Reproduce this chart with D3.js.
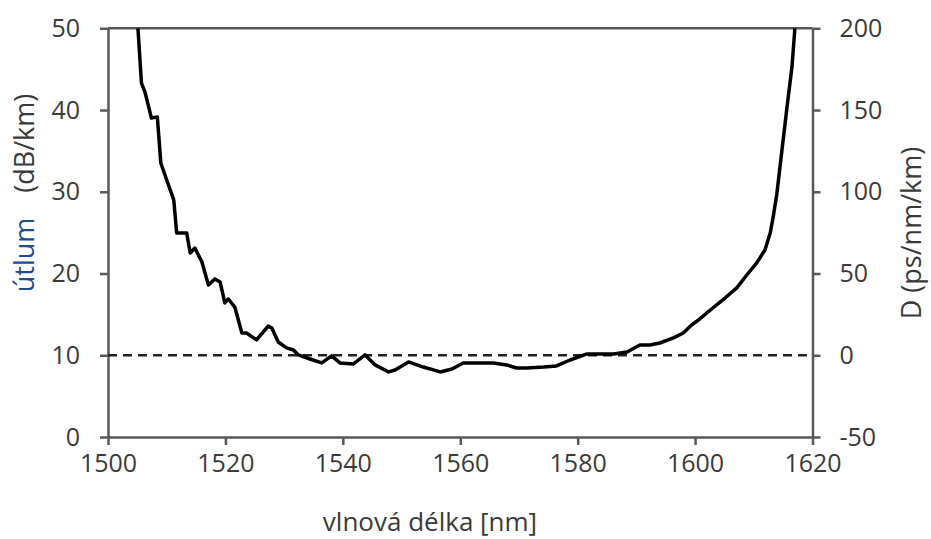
<!DOCTYPE html>
<html lang="cs">
<head>
<meta charset="utf-8">
<title>útlum / disperze</title>
<script src="https://d3js.org/d3.v7.min.js"></script>
<style>
  body { margin: 0; background: #fff; }
  svg text { font-family: "Open Sans", "Noto Sans", sans-serif; }
</style>
</head>
<body>
<script>
// vlnova delka [nm]
var lambda = [1505.1, 1505.7, 1506.3, 1507.4, 1508.4, 1509.0, 1510.0, 1511.2, 1511.7, 1513.4,
  1514.0, 1514.8, 1516.0, 1517.1, 1518.2, 1519.1, 1519.9, 1520.5, 1521.6, 1522.8,
  1523.6, 1525.3, 1527.3, 1527.9, 1529.0, 1530.4, 1531.6, 1532.4, 1534.4, 1536.4,
  1538.1, 1539.5, 1541.8, 1543.8, 1545.5, 1547.8, 1548.9, 1551.2, 1553.7, 1556.6,
  1558.6, 1560.5, 1563.4, 1565.6, 1567.9, 1569.6, 1571.3, 1574.2, 1576.4, 1578.7,
  1581.6, 1586.1, 1588.4, 1590.6, 1592.3, 1594.0, 1596.3, 1598.0, 1599.4, 1600.6,
  1602.6, 1605.1, 1607.1, 1608.8, 1610.5, 1611.9, 1612.8, 1613.3, 1613.9, 1614.8,
  1615.6, 1616.5, 1617.0];
// D [ps/nm/km] (prava osa)
var disperze = [200, 166.5, 161.0, 145.1, 145.8, 117.6, 107.2, 95.0, 74.8, 74.8,
  62.6, 65.6, 57.1, 43.0, 46.7, 44.8, 32.0, 34.4, 29.5, 13.6,
  13.6, 9.4, 17.9, 16.7, 8.1, 4.5, 3.2, 0.2, -2.3, -4.7,
  -0.4, -4.7, -5.3, 0.2, -5.9, -10.2, -9.0, -4.1, -7.2, -10.2,
  -8.4, -4.7, -4.7, -4.7, -5.9, -7.8, -7.8, -7.2, -6.5, -2.9,
  0.8, 0.8, 2.0, 6.3, 6.3, 7.5, 10.6, 13.6, 18.5, 21.6,
  27.7, 35.0, 41.2, 49.1, 56.5, 64.4, 74.8, 84.6, 98.0, 125.6,
  150.0, 176.3, 200];

var xTicks = [1500, 1520, 1540, 1560, 1580, 1600, 1620];
var leftTicks = [0, 10, 20, 30, 40, 50];
var rightTicks = [-50, 0, 50, 100, 150, 200];
var nulaD = 0;

var W = 931, H = 539;
var osa = "#595959", textC = "#3a3a3a";

var svg = d3.select("body").append("svg")
  .attr("width", W).attr("height", H);

var x = d3.scaleLinear().domain([1500, 1620]).range([108, 812.5]);
var yL = d3.scaleLinear().domain([0, 50]).range([437, 28.3]);
var yR = d3.scaleLinear().domain([-50, 200]).range([437, 28.3]);

// horni okraj
svg.append("line")
  .attr("x1", x(1500)).attr("x2", x(1620))
  .attr("y1", yL(50)).attr("y2", yL(50))
  .attr("stroke", osa).attr("stroke-width", 2.5);

// osy
function styl(g) {
  g.select(".domain").attr("stroke", osa).attr("stroke-width", 2.5);
  g.selectAll(".tick line").attr("stroke", osa).attr("stroke-width", 2.5);
  g.selectAll(".tick text").attr("fill", textC).attr("font-size", "25px");
}
var fmt = function(d) { return String(d); };

svg.append("g")
  .attr("transform", "translate(0," + yL(0) + ")")
  .call(d3.axisBottom(x).tickValues(xTicks).tickFormat(fmt)
    .tickSize(8).tickSizeOuter(0).tickPadding(9))
  .call(styl);

svg.append("g")
  .attr("transform", "translate(" + x(1500) + ",0)")
  .call(d3.axisLeft(yL).tickValues(leftTicks).tickFormat(fmt)
    .tickSize(8).tickSizeOuter(0).tickPadding(20))
  .call(styl);

svg.append("g")
  .attr("transform", "translate(" + x(1620) + ",0)")
  .call(d3.axisRight(yR).tickValues(rightTicks).tickFormat(fmt)
    .tickSize(8).tickSizeOuter(0).tickPadding(19))
  .call(styl);

// prerusovana cara D = 0
svg.append("line")
  .attr("x1", x(1500)).attr("x2", x(1620))
  .attr("y1", yR(nulaD)).attr("y2", yR(nulaD))
  .attr("stroke", "#222").attr("stroke-width", 2.5)
  .attr("stroke-dasharray", "9,6");

// krivka
var data = lambda.map(function(l, i) { return [l, disperze[i]]; });
svg.append("path")
  .datum(data)
  .attr("fill", "none")
  .attr("stroke", "#000")
  .attr("stroke-width", 3.5)
  .attr("stroke-linejoin", "round")
  .attr("d", d3.line()
    .x(function(d) { return x(d[0]); })
    .y(function(d) { return yR(d[1]); }));

// popisky os
svg.append("text")
  .attr("x", 430).attr("y", 531)
  .attr("text-anchor", "middle")
  .attr("fill", textC).attr("font-size", "26px")
  .text("vlnová délka [nm]");

var lt = svg.append("text")
  .attr("transform", "translate(34,193) rotate(-90)")
  .attr("text-anchor", "middle")
  .attr("font-size", "27px");
lt.append("tspan").attr("fill", "#1f4e8c").text("útlum");
lt.append("tspan").attr("fill", textC).attr("dx", 25).text("(dB/km)");

svg.append("text")
  .attr("transform", "translate(921,233) rotate(-90)")
  .attr("text-anchor", "middle")
  .attr("fill", textC).attr("font-size", "27px")
  .text("D (ps/nm/km)");
</script>
</body>
</html>
